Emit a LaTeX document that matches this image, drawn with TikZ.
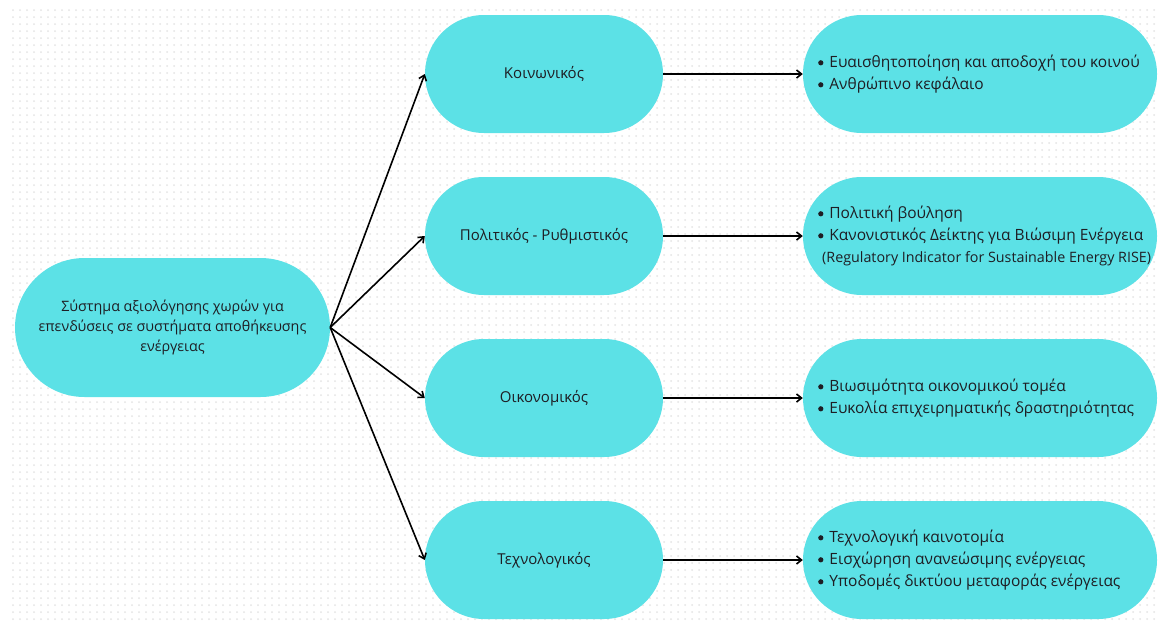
\documentclass[tikz,border=0pt]{standalone}
\usepackage{fontspec}
\setmainfont{Open Sans}
\usetikzlibrary{arrows.meta,shapes.misc}
\definecolor{cyanbox}{HTML}{5CE1E6}
\definecolor{dotgray}{HTML}{E4E4E4}
\definecolor{txt}{HTML}{1E1E24}
\newcommand\blt{\tikz[baseline=-4.6pt]\fill[txt] (0pt,0pt) circle (2.6pt);}
\begin{document}
\begin{tikzpicture}[x=1pt,y=-1pt,
  box/.style={rounded rectangle, fill=cyanbox, inner sep=0pt, align=center, text=txt,
    font=\fontsize{15}{20}\selectfont},
  midbox/.style={box, minimum width=238pt, minimum height=118pt},
  rightbox/.style={box, minimum width=354pt, minimum height=118pt},
  list/.style={anchor=west, inner sep=0pt, align=left, text=txt,
    font=\fontsize{15.5}{22}\selectfont},
  arr/.style={-{Straight Barb[length=5pt,width=8pt]}, line width=1.6pt, black},
  dots/.style={dotgray, line width=2pt, line cap=round, dash pattern=on 0pt off 7pt}
]
\useasboundingbox (0,0) rectangle (1159,624);
\fill[white] (0,0) rectangle (1159,624);
\foreach \y in {10,17,...,620} \draw[dots] (13,\y) -- (1159,\y);

\node[box, minimum width=315pt, minimum height=139pt, font=\fontsize{14.3}{20}\selectfont] (root) at (172.5,327.5)
  {Σύστημα αξιολόγησης χωρών για\\επενδύσεις σε συστήματα αποθήκευσης\\ενέργειας};

\node[midbox] (m1) at (544,74) {Κοινωνικός};
\node[midbox] (m2) at (544,236) {Πολιτικός - Ρυθμιστικός};
\node[midbox] (m3) at (544,398) {Οικονομικός};
\node[midbox] (m4) at (544,560) {Τεχνολογικός};

\node[rightbox] (r1) at (980,74) {};
\node[rightbox] (r2) at (980,236) {};
\node[rightbox] (r3) at (980,398) {};
\node[rightbox] (r4) at (980,560) {};

\node[list] (t1) at (818,74) {\begin{tabular}{@{}l@{\hspace{6pt}}l@{}}
  \blt & Ευαισθητοποίηση και αποδοχή του κοινού\\
  \blt & Ανθρώπινο κεφάλαιο\end{tabular}};
\node[list] (t2) at (818,236) {\begin{tabular}{@{}l@{\hspace{6pt}}l@{}}
  \blt & Πολιτική βούληση\\
  \blt & Κανονιστικός Δείκτης για Βιώσιμη Ενέργεια\\
  \multicolumn{2}{@{}l@{}}{\hspace{4pt}\fontsize{14.3}{22}\selectfont (Regulatory Indicator for Sustainable Energy RISE)}\end{tabular}};
\node[list] (t3) at (818,398) {\begin{tabular}{@{}l@{\hspace{6pt}}l@{}}
  \blt & Βιωσιμότητα οικονομικού τομέα\\
  \blt & Ευκολία επιχειρηματικής δραστηριότητας\end{tabular}};
\node[list] (t4) at (818,560) {\begin{tabular}{@{}l@{\hspace{6pt}}l@{}}
  \blt & Τεχνολογική καινοτομία\\
  \blt & Εισχώρηση ανανεώσιμης ενέργειας\\
  \blt & Υποδομές δικτύου μεταφοράς ενέργειας\end{tabular}};

\foreach \i in {1,...,4} {
  \draw[arr] (root.east) -- (m\i.west);
  \draw[arr] (m\i.east) -- (r\i.west);
}
\end{tikzpicture}
\end{document}
